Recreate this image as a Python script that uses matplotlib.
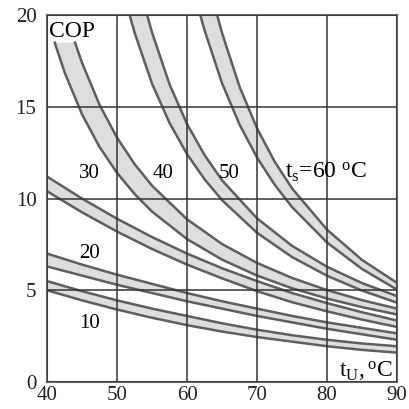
import numpy as np
import matplotlib
matplotlib.use("Agg")
import matplotlib.pyplot as plt

plt.rcParams['font.family'] = ['Liberation Serif', 'DejaVu Serif']
plt.rcParams['mathtext.fontset'] = 'custom'
plt.rcParams['mathtext.rm'] = 'Liberation Serif'
plt.rcParams['mathtext.it'] = 'Liberation Serif:italic'

# bands of COP for each t_s (lower edge / upper edge)
t_flat = [40, 45, 50, 55, 60, 65, 70, 75, 80, 85, 90]
# t_s = 10
lo_10 = [5.0, 4.45, 3.95, 3.5, 3.1, 2.75, 2.45, 2.2, 1.95, 1.75, 1.6]
hi_10 = [5.5, 4.95, 4.45, 4.0, 3.6, 3.2, 2.85, 2.55, 2.3, 2.1, 1.95]
# t_s = 20
lo_20 = [6.3, 5.8, 5.3, 4.85, 4.4, 4.0, 3.6, 3.25, 2.9, 2.6, 2.3]
hi_20 = [7.0, 6.4, 5.85, 5.35, 4.85, 4.4, 4.0, 3.6, 3.25, 2.95, 2.65]
# t_s = 30
lo_30 = [10.4, 9.25, 8.2, 7.25, 6.4, 5.65, 4.95, 4.35, 3.85, 3.4, 3.0]
hi_30 = [11.2, 10.0, 8.9, 7.9, 7.0, 6.2, 5.5, 4.85, 4.3, 3.8, 3.35]
# t_s = 40
t_40_lo = [41.1, 42.5, 45, 47.5, 50, 52.5, 55, 60, 65, 70, 75, 80, 85, 90]
lo_40 = [18.5, 16.89, 14.59, 12.81, 11.4, 10.25, 9.29, 7.79, 6.67, 5.8, 5.11, 4.55, 4.08, 3.68]
t_40_hi = [44, 45, 47.5, 50, 52.5, 55, 60, 65, 70, 75, 80, 85, 90]
hi_40 = [18.5, 17.4, 15.11, 13.32, 11.88, 10.7, 8.87, 7.52, 6.49, 5.67, 5.01, 4.46, 4.0]
# t_s = 50
t_50_lo = [51.8, 52.5, 55, 57.5, 60, 62.5, 65, 70, 75, 80, 85, 90]
lo_50 = [20.0, 19.05, 16.26, 14.12, 12.42, 11.05, 9.91, 8.13, 6.81, 5.79, 4.98, 4.32]
t_50_hi = [54.3, 55, 57.5, 60, 62.5, 65, 70, 75, 80, 85, 90]
hi_50 = [20.0, 19.05, 16.22, 14.06, 12.37, 10.99, 8.92, 7.42, 6.28, 5.39, 4.68]
# t_s = 60
t_60_lo = [61.9, 62.5, 65, 67.5, 70, 72.5, 75, 80, 85, 90]
lo_60 = [20.0, 19.17, 16.28, 14.03, 12.23, 10.76, 9.53, 7.6, 6.16, 5.03]
t_60_hi = [64.3, 65, 67.5, 70, 72.5, 75, 80, 85, 90]
hi_60 = [20.0, 19.02, 16.09, 13.82, 12.02, 10.55, 8.3, 6.65, 5.4]

bands = [
    (t_flat, lo_10, t_flat, hi_10),
    (t_flat, lo_20, t_flat, hi_20),
    (t_flat, lo_30, t_flat, hi_30),
    (t_40_lo, lo_40, t_40_hi, hi_40),
    (t_50_lo, lo_50, t_50_hi, hi_50),
    (t_60_lo, lo_60, t_60_hi, hi_60),
]

fig = plt.figure(figsize=(4.09, 4.09), dpi=100)
ax = fig.add_axes([0.115, 0.066, 0.856, 0.897])

for tl, yl, th, yh in bands:
    xs = list(tl) + list(th)[::-1]
    ys = list(yl) + list(yh)[::-1]
    ax.fill(xs, ys, color='#dedede', lw=0, zorder=1)
    ax.plot(tl, yl, color='#5e5e5e', lw=1.8, zorder=2)
    ax.plot(th, yh, color='#5e5e5e', lw=1.8, zorder=2)

ax.set_xlim(40, 90)
ax.set_ylim(0, 20)
ax.set_xticks([40, 50, 60, 70, 80, 90])
ax.set_yticks([0, 5, 10, 15, 20])
ax.tick_params(length=0, labelsize=15, colors='#222222')
ax.tick_params(axis='y', pad=7.6)
ax.tick_params(axis='x', pad=3)
ax.grid(True, color='#333333', lw=1.1)
ax.set_axisbelow(False)
for s in ax.spines.values():
    s.set_color('#666666')
    s.set_linewidth(1.5)

fs = 15
ax.text(40.3, 19.1, 'COP', fontsize=17, va='center', ha='left')
ax.text(46.1, 11.1, '30', fontsize=fs, ha='center', va='baseline')
ax.text(56.6, 11.1, '40', fontsize=fs, ha='center', va='baseline')
ax.text(66.0, 11.1, '50', fontsize=fs, ha='center', va='baseline')
ax.text(74.0, 11.1, r't$_{\rm s}$=60 $^{\rm o}$C', fontsize=17, ha='left', va='baseline')
ax.text(46.0, 6.76, '20', fontsize=fs, ha='center', va='baseline')
ax.text(46.0, 2.94, '10', fontsize=fs, ha='center', va='baseline')
ax.text(89.3, 0.3, r't$_{\rm U}$,$\,^{\rm o}$C', fontsize=17, ha='right', va='baseline')

fig.savefig('out.png', dpi=100)
